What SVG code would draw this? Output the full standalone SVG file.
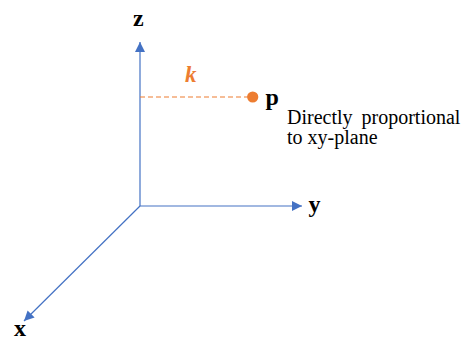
<svg xmlns="http://www.w3.org/2000/svg" width="464" height="340" viewBox="0 0 464 340">
<style>
.axis{stroke:#4472C4;stroke-width:1.2;fill:none}
.lbl{font-family:"Liberation Serif","Times New Roman",serif;font-weight:bold;font-size:24px;fill:#000}
.note{font-family:"Liberation Serif","Times New Roman",serif;font-size:20px;fill:#000}
</style>
<defs>
<marker id="ah" viewBox="0 0 10 10" refX="10" refY="5" markerWidth="10" markerHeight="10" markerUnits="userSpaceOnUse" orient="auto">
<path d="M0,0 L10,5 L0,10 z" fill="#4472C4"/>
</marker>
</defs>
<rect width="464" height="340" fill="#fff"/>
<g id="connectors">
<line class="axis" x1="140" y1="206" x2="140" y2="42" marker-end="url(#ah)"/>
<line class="axis" x1="140" y1="206" x2="302" y2="206" marker-end="url(#ah)"/>
<line class="axis" x1="140" y1="206" x2="24" y2="321" marker-end="url(#ah)"/>
<line x1="140" y1="97" x2="248" y2="97" stroke="#ED7D31" stroke-width="1.2" stroke-dasharray="5,3"/>
</g>
<g id="z-label"><text class="lbl" x="133" y="26">z</text></g>
<g id="y-label"><text class="lbl" x="308.5" y="212">y</text></g>
<g id="x-label"><text class="lbl" x="14" y="336">x</text></g>
<g id="k-label"><text x="185" y="82" font-family="'Liberation Serif','Times New Roman',serif" font-weight="bold" font-style="italic" font-size="23" fill="#ED7D31">k</text></g>
<g id="point-p">
<circle cx="252.7" cy="97" r="5.6" fill="#ED7D31"/>
<text class="lbl" x="265.5" y="105">p</text>
</g>
<g id="note">
<text class="note" x="287" y="123.5" word-spacing="4">Directly proportional</text>
<text class="note" x="287" y="144">to xy-plane</text>
</g>
</svg>
